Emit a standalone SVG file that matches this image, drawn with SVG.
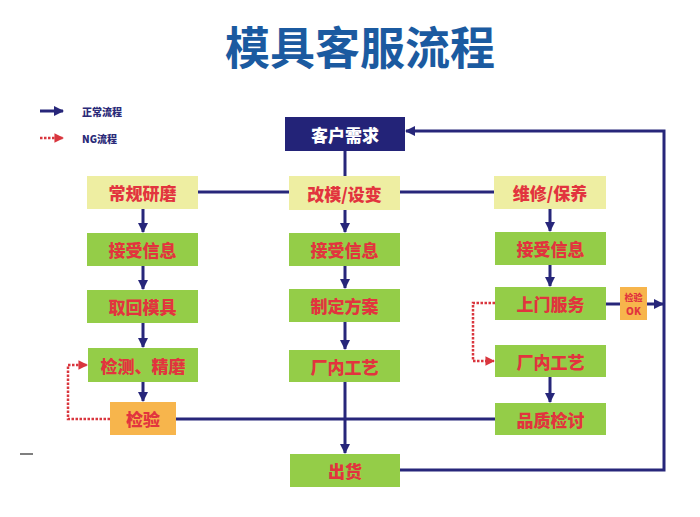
<svg xmlns="http://www.w3.org/2000/svg" width="700" height="517" viewBox="0 0 700 517">
<defs>
<marker id="ah" viewBox="0 0 10 10" refX="9" refY="5" markerWidth="3.4" markerHeight="3.4" orient="auto" markerUnits="strokeWidth">
<path d="M0,0 L10,5 L0,10 z" fill="#27267a"/>
</marker>
<marker id="ahr" viewBox="0 0 10 10" refX="9" refY="5" markerWidth="3.8" markerHeight="3.8" orient="auto" markerUnits="strokeWidth">
<path d="M0,0 L10,5 L0,10 z" fill="#d9363e"/>
</marker>
</defs>
<style>
.t{font-family:"Noto Sans CJK SC","Noto Sans",sans-serif;font-weight:900;text-anchor:middle;dominant-baseline:central}
.lbl{fill:#e2343e;font-size:17px}
.g{fill:#94cd48}
.y{fill:#eeeea2}
.o{fill:#f7b54c}
.ln{fill:none;stroke:#27267a;stroke-width:3}
.ng{fill:none;stroke:#d9363e;stroke-width:2.5;stroke-dasharray:2.5 1.5}
.lg{font-family:"Noto Sans CJK SC","Noto Sans",sans-serif;font-weight:900;font-size:10px;fill:#2a2a78;dominant-baseline:central}
</style>
<rect width="700" height="517" fill="#ffffff"/>
<text x="360" y="45" class="t" style="font-size:45px;font-weight:bold;fill:#1b5aa0">模具客服流程</text>

<g id="legend">
<line x1="40" y1="111" x2="63" y2="111" class="ln" stroke-width="2.5" marker-end="url(#ah)"/>
<text x="82" y="111" class="lg">正常流程</text>
<line x1="40" y1="138" x2="63" y2="138" class="ng" marker-end="url(#ahr)"/>
<text x="82" y="138" class="lg">NG流程</text>
</g>
<line x1="20" y1="454" x2="33" y2="454" stroke="#555" stroke-width="1.5"/>

<g id="connectors">
<line x1="345" y1="151" x2="345" y2="176" class="ln"/>
<line x1="198" y1="192" x2="289" y2="192" class="ln"/>
<line x1="400" y1="192" x2="494" y2="192" class="ln"/>
<line x1="143" y1="209" x2="143" y2="232" class="ln" marker-end="url(#ah)"/>
<line x1="143" y1="266" x2="143" y2="289" class="ln" marker-end="url(#ah)"/>
<line x1="143" y1="323" x2="143" y2="347" class="ln" marker-end="url(#ah)"/>
<line x1="143" y1="382" x2="143" y2="401" class="ln" marker-end="url(#ah)"/>
<line x1="345" y1="210" x2="345" y2="232" class="ln" marker-end="url(#ah)"/>
<line x1="345" y1="266" x2="345" y2="288" class="ln" marker-end="url(#ah)"/>
<line x1="345" y1="322" x2="345" y2="349" class="ln" marker-end="url(#ah)"/>
<line x1="345" y1="382" x2="345" y2="453" class="ln" marker-end="url(#ah)"/>
<line x1="550" y1="209" x2="550" y2="231" class="ln" marker-end="url(#ah)"/>
<line x1="550" y1="265" x2="550" y2="286" class="ln" marker-end="url(#ah)"/>
<line x1="550" y1="377" x2="550" y2="402" class="ln" marker-end="url(#ah)"/>
<line x1="176" y1="419" x2="495" y2="419" class="ln"/>
<line x1="606" y1="304" x2="620" y2="304" class="ln"/>
<line x1="647" y1="304" x2="663" y2="304" class="ln" marker-end="url(#ah)"/>
<polyline points="400,470 664,470 664,131 406,131" class="ln" marker-end="url(#ah)"/>
<polyline points="110,419 68,419 68,365 87,365" class="ng" marker-end="url(#ahr)"/>
<polyline points="495,303 473,303 473,361 494,361" class="ng" marker-end="url(#ahr)"/>
</g>

<g id="n-kehu"><rect x="285" y="117" width="120" height="34" fill="#232378"/><text x="345" y="134" class="t" style="font-size:17px;fill:#ffffff">客户需求</text></g>
<g id="n-changgui"><rect x="87" y="176" width="111" height="33" class="y"/><text x="142.5" y="192.5" class="t lbl">常规研磨</text></g>
<g id="n-gaimo"><rect x="289" y="176" width="111" height="34" class="y"/><text x="344.5" y="193" class="t lbl">改模/设变</text></g>
<g id="n-weixiu"><rect x="494" y="176" width="112" height="33" class="y"/><text x="550" y="192.5" class="t lbl">维修/保养</text></g>

<g id="n-l-jieshou"><rect x="87" y="233" width="111" height="33" class="g"/><text x="142.5" y="249.5" class="t lbl">接受信息</text></g>
<g id="n-l-quhui"><rect x="87" y="290" width="111" height="33" class="g"/><text x="142.5" y="306.5" class="t lbl">取回模具</text></g>
<g id="n-l-jiance"><rect x="88" y="348" width="110" height="34" class="g"/><text x="143" y="365" class="t lbl">检测、精磨</text></g>
<g id="n-l-jianyan"><rect x="110" y="402" width="66" height="33" class="o"/><text x="143" y="418.5" class="t lbl">检验</text></g>

<g id="n-c-jieshou"><rect x="289" y="233" width="111" height="33" class="g"/><text x="344.5" y="249.5" class="t lbl">接受信息</text></g>
<g id="n-c-zhiding"><rect x="289" y="289" width="111" height="33" class="g"/><text x="344.5" y="305.5" class="t lbl">制定方案</text></g>
<g id="n-c-changnei"><rect x="289" y="350" width="111" height="32" class="g"/><text x="344.5" y="366" class="t lbl">厂内工艺</text></g>
<g id="n-chuhuo"><rect x="290" y="454" width="110" height="33" class="g"/><text x="345" y="470.5" class="t lbl">出货</text></g>

<g id="n-r-jieshou"><rect x="495" y="232" width="111" height="33" class="g"/><text x="550.5" y="248.5" class="t lbl">接受信息</text></g>
<g id="n-r-shangmen"><rect x="495" y="287" width="111" height="33" class="g"/><text x="550.5" y="303.5" class="t lbl">上门服务</text></g>
<g id="n-r-changnei"><rect x="495" y="345" width="111" height="32" class="g"/><text x="550.5" y="361" class="t lbl">厂内工艺</text></g>
<g id="n-r-pinzhi"><rect x="495" y="403" width="111" height="32" class="g"/><text x="550.5" y="419" class="t lbl">品质检讨</text></g>
<g id="n-jianyanok"><rect x="620" y="287" width="27" height="33" class="o"/><text x="633.5" y="297" class="t" style="font-size:9px;fill:#e2343e">检验</text><text x="633.5" y="310" class="t" style="font-size:10px;fill:#e2343e">OK</text></g>
</svg>
